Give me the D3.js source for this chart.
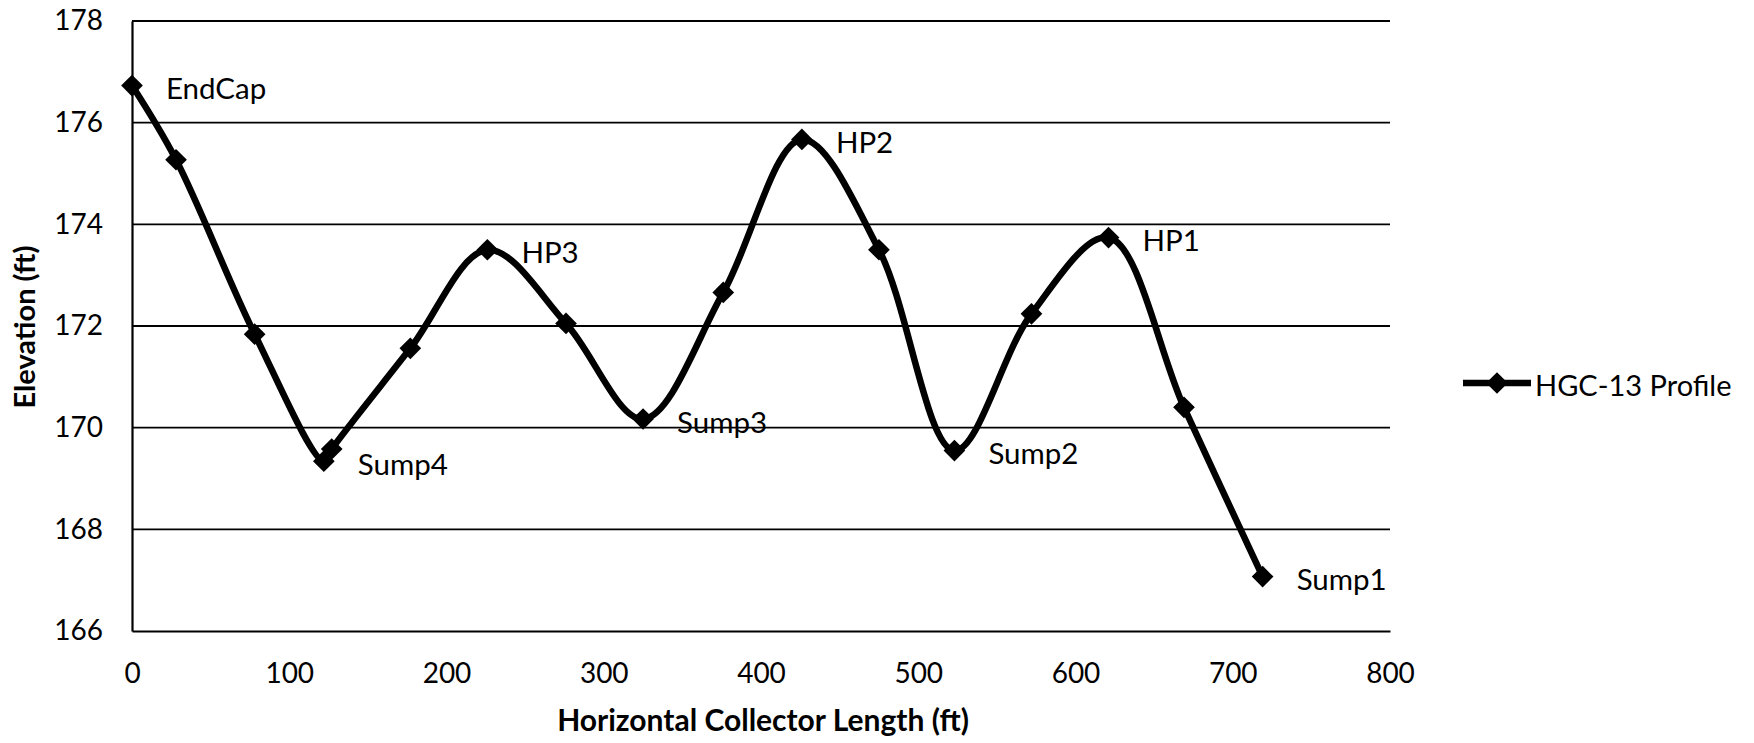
<!DOCTYPE html>
<html>
<head>
<meta charset="utf-8">
<script src="https://cdn.jsdelivr.net/npm/d3@7"></script>
<style>
  html, body { margin: 0; padding: 0; background: #fff; }
  svg { display: block; }
  text { font-family: Lato, "Open Sans", sans-serif; fill: #000; }
</style>
</head>
<body>
<svg id="chart" width="1754" height="743"></svg>
<script>
// Collector profile: distance along the collector (ft) and pipe elevation (ft)
const lengthFt = [0, 28, 78, 122, 127, 177, 226, 276, 325, 376, 426, 475, 523, 572, 621, 669, 719];
const elevationFt = [176.73, 175.27, 171.84, 169.34, 169.58, 171.56, 173.50, 172.05, 170.17, 172.66, 175.67, 173.50, 169.55, 172.24, 173.74, 170.40, 167.07];
const pointNames = ["EndCap", "", "", "Sump4", "", "", "HP3", "", "Sump3", "", "HP2", "", "Sump2", "", "HP1", "", "Sump1"];
const xTicks = [0, 100, 200, 300, 400, 500, 600, 700, 800];
const yTicks = [166, 168, 170, 172, 174, 176, 178];
const seriesName = "HGC-13 Profile";

const svg = d3.select("#chart");
const x = d3.scaleLinear().domain([0, 800]).range([132, 1390]);
const y = d3.scaleLinear().domain([166, 178]).range([631, 21]);

const points = lengthFt.map((d, i) => ({ x: d, y: elevationFt[i], name: pointNames[i] }));

// horizontal gridlines
svg.append("g")
  .selectAll("line")
  .data(yTicks.filter(t => t > 166))
  .join("line")
  .attr("x1", x(0)).attr("x2", x(800))
  .attr("y1", d => y(d)).attr("y2", d => y(d))
  .attr("stroke", "#000").attr("stroke-width", 1.8);

// axes
const xAxis = svg.append("g")
  .attr("transform", `translate(0,${y(166)})`)
  .call(d3.axisBottom(x).tickValues(xTicks).tickSize(0).tickPadding(32));
xAxis.select(".domain").attr("stroke", "#000").attr("stroke-width", 2.2);
xAxis.selectAll("text").attr("font-size", 28).attr("fill", "#000");

const yAxis = svg.append("g")
  .attr("transform", `translate(${x(0)},0)`)
  .call(d3.axisLeft(y).tickValues(yTicks).tickSize(0).tickPadding(29));
yAxis.select(".domain").attr("stroke", "#000").attr("stroke-width", 2.2);
yAxis.selectAll("text").attr("font-size", 28).attr("fill", "#000");

// axis titles
svg.append("text")
  .attr("x", (x(0) + x(800)) / 2 + 2).attr("y", 731)
  .attr("text-anchor", "middle")
  .attr("font-size", 30).attr("font-weight", "bold")
  .text("Horizontal Collector Length (ft)");

svg.append("text")
  .attr("transform", `translate(35,${(y(166) + y(178)) / 2 + 1}) rotate(-90)`)
  .attr("text-anchor", "middle")
  .attr("font-size", 29).attr("font-weight", "bold")
  .text("Elevation (ft)");

// smoothed profile line
const line = d3.line()
  .x(d => x(d.x)).y(d => y(d.y))
  .curve(d3.curveCatmullRom.alpha(0.5));

svg.append("path")
  .datum(points)
  .attr("d", line)
  .attr("fill", "none")
  .attr("stroke", "#000")
  .attr("stroke-width", 6.5)
  .attr("stroke-linejoin", "round");

// diamond markers
const diamond = d3.symbol().type(d3.symbolDiamond2).size(300);
svg.append("g")
  .selectAll("path")
  .data(points)
  .join("path")
  .attr("transform", d => `translate(${x(d.x)},${y(d.y)})`)
  .attr("d", diamond)
  .attr("fill", "#000");

// point labels
svg.append("g")
  .selectAll("text")
  .data(points.filter(d => d.name))
  .join("text")
  .attr("x", d => x(d.x) + 34)
  .attr("y", d => y(d.y) + 2)
  .attr("dominant-baseline", "central")
  .attr("font-size", 29.5)
  .text(d => d.name);

// legend
const lg = svg.append("g").attr("transform", "translate(1463,383)");
lg.append("line").attr("x1", 0).attr("x2", 68).attr("y1", 0).attr("y2", 0)
  .attr("stroke", "#000").attr("stroke-width", 6.5);
lg.append("path").attr("transform", "translate(34,0)").attr("d", diamond).attr("fill", "#000");
lg.append("text").attr("x", 72).attr("y", 1).attr("dominant-baseline", "central")
  .attr("font-size", 29).text(seriesName);
</script>
</body>
</html>
